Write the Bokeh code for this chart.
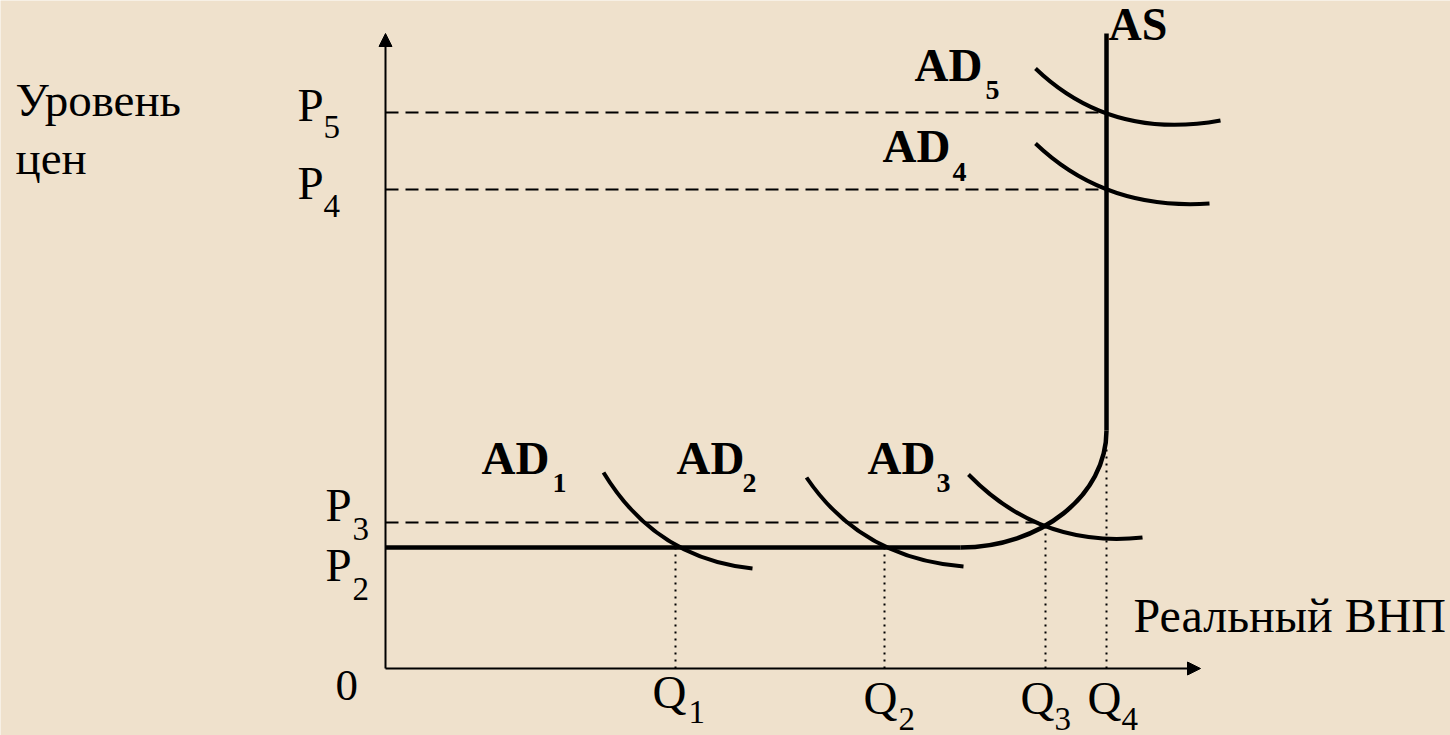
from bokeh.plotting import figure
from bokeh.models import ColumnDataSource, Range1d, Arrow, NormalHead
from bokeh.core.properties import value
from bokeh.embed import file_html
from bokeh.resources import INLINE

# ---------------- data (diagram units) ----------------
# equilibrium outputs Q1..Q4 and price levels P2..P5
Q_NAMES = ["1", "2", "3", "4"]
Q_VALUES = [2.90, 4.99, 6.60, 7.21]
P_NAMES = ["2", "3", "4", "5"]
P_VALUES = [1.21, 1.46, 4.79, 5.56]

# axes extent
X_AXIS_MAX = 8.15
Y_AXIS_MAX = 6.35

# AS curve: horizontal segment, bend, vertical segment
AS_FLAT_X = [0.0, 5.75]
AS_FLAT_Y = [1.21, 1.21]
AS_BEND = dict(x0=[5.75], y0=[1.21], cx0=[6.55], cy0=[1.21],
               cx1=[7.21], cy1=[1.73], x1=[7.21], y1=[2.38])
AS_VERT_X = [7.21, 7.21]
AS_VERT_Y = [2.38, 6.35]

# AD curves (quadratic: start, control, end)
AD_X0 = [2.18, 4.21, 5.83, 6.50, 6.50]
AD_Y0 = [1.96, 1.91, 1.94, 5.25, 6.00]
AD_CX = [2.70, 4.76, 6.55, 7.20, 7.25]
AD_CY = [1.10, 1.10, 1.20, 4.58, 5.28]
AD_X1 = [3.67, 5.78, 7.57, 8.24, 8.35]
AD_Y1 = [1.00, 1.02, 1.31, 4.65, 5.48]

# guide lines: dashed price levels (to the point on AS), dotted outputs
DASH_Y = [1.46, 4.79, 5.56]
DASH_XEND = [6.60, 7.21, 7.21]
DOT_X = [2.90, 4.99, 6.60, 7.21]
DOT_YEND = [1.21, 1.21, 1.43, 2.21]

# label anchor positions
AD_LBL_X = [0.96, 2.91, 4.82, 4.97, 5.29]
AD_LBL_Y = [2.11, 2.11, 2.11, 5.23, 6.04]
AD_SUB = ["1", "2", "3", "4", "5"]
AD_SUB_X = [1.67, 3.57, 5.51, 5.67, 6.00]
AD_SUB_Y = [1.86, 1.86, 1.86, 4.97, 5.79]

P_LBL_X = [-0.60, -0.60, -0.88, -0.88]
P_LBL_Y = [1.04, 1.64, 4.86, 5.64]
P_SUB_X = [-0.33, -0.33, -0.62, -0.62]
P_SUB_Y = [0.80, 1.40, 4.63, 5.42]

Q_LBL_X = [2.67, 4.78, 6.35, 7.02]
Q_LBL_Y = [-0.23, -0.29, -0.29, -0.29]
Q_SUB_X = [3.03, 5.13, 6.69, 7.36]
Q_SUB_Y = [-0.43, -0.50, -0.50, -0.50]

BG = "#EFE1CC"
SERIF = value("'Liberation Serif', 'Times New Roman', Times, 'DejaVu Serif', serif")

p = figure(width=1450, height=735, x_range=Range1d(-3.85, 10.65),
           y_range=Range1d(-0.67, 6.68), x_axis_type=None, y_axis_type=None,
           toolbar_location=None, output_backend="svg", min_border=0,
           background_fill_color=BG, border_fill_color=BG,
           outline_line_color=None)
p.xgrid.visible = False
p.ygrid.visible = False

# axes with arrows
p.add_layout(Arrow(end=NormalHead(size=13, fill_color="black", line_color="black", line_width=1),
                   x_start=0, y_start=0, x_end=0, y_end=Y_AXIS_MAX,
                   line_width=2, line_color="black"))
p.add_layout(Arrow(end=NormalHead(size=13, fill_color="black", line_color="black", line_width=1),
                   x_start=0, y_start=0, x_end=X_AXIS_MAX, y_end=0,
                   line_width=2, line_color="black"))

# dashed price lines
p.segment(x0=[0] * len(DASH_Y), y0=DASH_Y, x1=DASH_XEND, y1=DASH_Y,
          line_color="black", line_width=2, line_dash="13 7")
# dotted output lines
p.segment(x0=DOT_X, y0=[0] * len(DOT_X), x1=DOT_X, y1=DOT_YEND,
          line_color="black", line_width=2, line_dash="2 5")

# AS curve
p.line(AS_FLAT_X, AS_FLAT_Y, line_color="black", line_width=4.5)
p.bezier(source=ColumnDataSource(AS_BEND), x0="x0", y0="y0", x1="x1", y1="y1",
         cx0="cx0", cy0="cy0", cx1="cx1", cy1="cy1", line_color="black", line_width=4.5)
p.line(AS_VERT_X, AS_VERT_Y, line_color="black", line_width=4.5)

# AD curves
p.quadratic(x0=AD_X0, y0=AD_Y0, cx=AD_CX, cy=AD_CY, x1=AD_X1, y1=AD_Y1,
            line_color="black", line_width=4)

# labels
def txt(x, y, t, size, bold=False):
    p.text(x=x, y=y, text=t, text_font=SERIF, text_font_size=size,
           text_font_style="bold" if bold else "normal",
           text_baseline="alphabetic", text_align="left", text_color="black")

txt(AD_LBL_X, AD_LBL_Y, ["AD"] * 5, "47px", True)
txt(AD_SUB_X, AD_SUB_Y, AD_SUB, "28px", True)
txt([7.23], [6.44], ["AS"], "46px", True)

txt(P_LBL_X, P_LBL_Y, ["P"] * 4, "47px")
txt(P_SUB_X, P_SUB_Y, P_NAMES, "33px")
txt(Q_LBL_X, Q_LBL_Y, ["Q"] * 4, "47px")
txt(Q_SUB_X, Q_SUB_Y, Q_NAMES, "33px")
txt([-0.50], [-0.17], ["0"], "45px")

txt([-3.70, -3.70], [5.69, 5.11], ["Уровень", "цен"], "47px")
txt([7.48], [0.53], ["Реальный ВНП"], "48px")

open("out.html", "w").write(file_html(p, INLINE))
